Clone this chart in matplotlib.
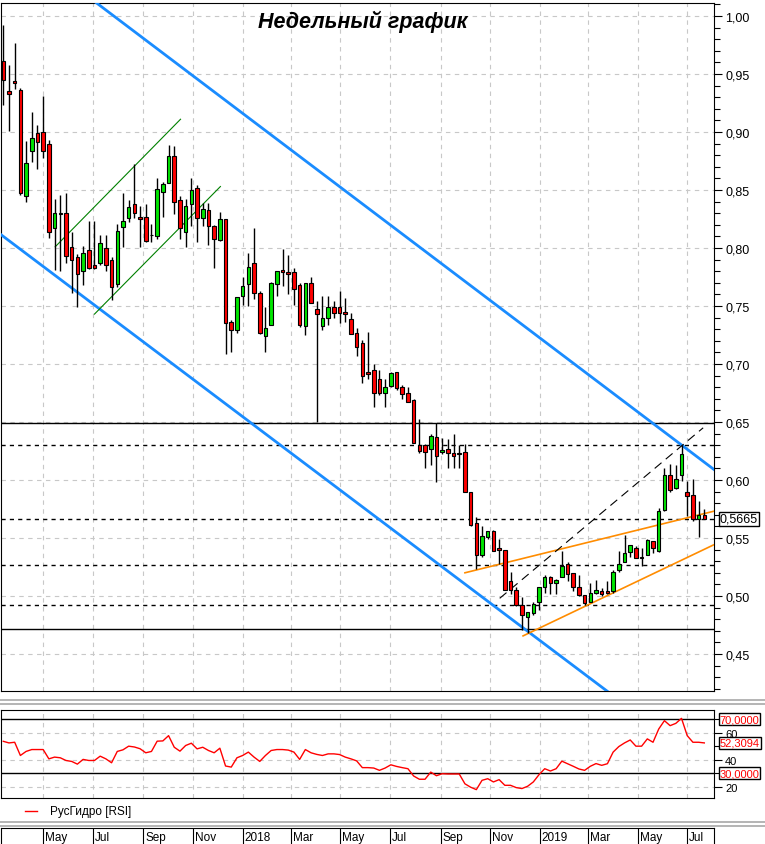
import matplotlib.pyplot as plt
import matplotlib.transforms as mtransforms
from matplotlib.lines import Line2D
from matplotlib.ticker import MultipleLocator, FuncFormatter
import numpy as np
import pandas as pd

plt.rcParams['font.family'] = ['Liberation Sans', 'DejaVu Sans']

# weekly candles, first week starts 2017-03-13
start = pd.Timestamp('2017-03-13')

opens = [0.961, 0.935, 0.944, 0.936, 0.845, 0.884, 0.899, 0.900, 0.890, 0.817,
         0.830, 0.830, 0.801, 0.792, 0.780, 0.798, 0.785, 0.787, 0.800, 0.790,
         0.769, 0.818, 0.826, 0.838, 0.827, 0.827, 0.811, 0.810, 0.848, 0.856,
         0.879, 0.841, 0.814, 0.838, 0.852, 0.826, 0.833, 0.819, 0.807, 0.825,
         0.736, 0.729, 0.759, 0.769, 0.787, 0.761, 0.724, 0.734, 0.769, 0.781,
         0.779, 0.779, 0.768, 0.733, 0.770, 0.747, 0.733, 0.740, 0.749, 0.749,
         0.745, 0.739, 0.727, 0.718, 0.693, 0.695, 0.687, 0.675, 0.681, 0.693,
         0.680, 0.675, 0.669, 0.630, 0.630, 0.627, 0.637, 0.624, 0.627, 0.623,
         0.623, 0.624, 0.590, 0.563, 0.535, 0.551, 0.556, 0.541, 0.540, 0.513,
         0.505, 0.492, 0.482, 0.485, 0.495, 0.508, 0.516, 0.511, 0.516, 0.528,
         0.520, 0.508, 0.501, 0.495, 0.503, 0.504, 0.504, 0.504, 0.522, 0.529,
         0.538, 0.541, 0.534, 0.535, 0.547, 0.539, 0.574, 0.604, 0.593, 0.604,
         0.590, 0.587, 0.566, 0.570]
highs = [0.992, 0.958, 0.977, 0.938, 0.892, 0.917, 0.906, 0.931, 0.893, 0.842,
         0.846, 0.847, 0.814, 0.795, 0.802, 0.823, 0.823, 0.811, 0.811, 0.792,
         0.821, 0.847, 0.841, 0.872, 0.836, 0.838, 0.821, 0.860, 0.857, 0.889,
         0.888, 0.845, 0.842, 0.860, 0.854, 0.839, 0.839, 0.820, 0.831, 0.825,
         0.738, 0.758, 0.775, 0.796, 0.817, 0.763, 0.749, 0.771, 0.780, 0.799,
         0.794, 0.783, 0.770, 0.770, 0.775, 0.754, 0.759, 0.759, 0.754, 0.763,
         0.757, 0.744, 0.731, 0.721, 0.728, 0.700, 0.695, 0.687, 0.693, 0.693,
         0.682, 0.680, 0.670, 0.653, 0.631, 0.640, 0.649, 0.636, 0.635, 0.640,
         0.630, 0.631, 0.590, 0.568, 0.560, 0.556, 0.557, 0.549, 0.540, 0.521,
         0.508, 0.499, 0.486, 0.495, 0.508, 0.518, 0.517, 0.515, 0.539, 0.529,
         0.520, 0.518, 0.501, 0.511, 0.514, 0.507, 0.513, 0.522, 0.539, 0.553,
         0.544, 0.543, 0.541, 0.549, 0.547, 0.576, 0.610, 0.614, 0.613, 0.630,
         0.599, 0.601, 0.582, 0.575]
lows = [0.923, 0.901, 0.937, 0.846, 0.840, 0.874, 0.868, 0.878, 0.809, 0.781,
        0.780, 0.787, 0.761, 0.749, 0.768, 0.782, 0.782, 0.785, 0.780, 0.755,
        0.766, 0.801, 0.822, 0.826, 0.801, 0.805, 0.805, 0.808, 0.827, 0.856,
        0.829, 0.808, 0.801, 0.819, 0.805, 0.819, 0.803, 0.783, 0.806, 0.709,
        0.710, 0.727, 0.751, 0.750, 0.756, 0.726, 0.710, 0.734, 0.759, 0.767,
        0.760, 0.751, 0.732, 0.725, 0.753, 0.650, 0.729, 0.734, 0.740, 0.735,
        0.736, 0.726, 0.707, 0.684, 0.687, 0.663, 0.673, 0.663, 0.680, 0.678,
        0.670, 0.667, 0.632, 0.623, 0.610, 0.613, 0.598, 0.622, 0.610, 0.610,
        0.610, 0.590, 0.560, 0.523, 0.534, 0.549, 0.539, 0.528, 0.505, 0.502,
        0.491, 0.471, 0.468, 0.484, 0.488, 0.503, 0.502, 0.502, 0.516, 0.513,
        0.504, 0.500, 0.492, 0.495, 0.502, 0.500, 0.502, 0.503, 0.521, 0.529,
        0.534, 0.533, 0.526, 0.535, 0.537, 0.538, 0.573, 0.590, 0.592, 0.599,
        0.569, 0.565, 0.551, 0.566]
closes = [0.945, 0.933, 0.942, 0.847, 0.873, 0.895, 0.891, 0.884, 0.814, 0.830,
          0.829, 0.793, 0.790, 0.778, 0.796, 0.783, 0.783, 0.804, 0.785, 0.766,
          0.815, 0.823, 0.835, 0.830, 0.825, 0.806, 0.811, 0.851, 0.855, 0.879,
          0.840, 0.817, 0.836, 0.850, 0.826, 0.834, 0.819, 0.808, 0.825, 0.735,
          0.729, 0.758, 0.767, 0.784, 0.761, 0.727, 0.731, 0.770, 0.780, 0.779,
          0.778, 0.765, 0.734, 0.770, 0.753, 0.743, 0.740, 0.749, 0.744, 0.744,
          0.743, 0.726, 0.715, 0.690, 0.691, 0.675, 0.675, 0.680, 0.692, 0.679,
          0.674, 0.667, 0.632, 0.625, 0.624, 0.638, 0.621, 0.626, 0.623, 0.621,
          0.622, 0.590, 0.561, 0.535, 0.552, 0.556, 0.539, 0.540, 0.505, 0.505,
          0.492, 0.484, 0.486, 0.493, 0.508, 0.516, 0.511, 0.514, 0.526, 0.519,
          0.508, 0.501, 0.494, 0.503, 0.505, 0.502, 0.503, 0.521, 0.528, 0.537,
          0.544, 0.533, 0.533, 0.548, 0.541, 0.573, 0.604, 0.591, 0.601, 0.622,
          0.586, 0.566, 0.570, 0.5665]

rsi = [53.5, 52.3, 52.8, 43.0, 46.0, 47.4, 47.4, 47.4, 40.5, 41.8,
       41.3, 39.3, 38.6, 36.6, 40.1, 39.3, 39.3, 42.5, 40.5, 37.6,
       46.0, 47.2, 49.9, 49.3, 48.0, 45.0, 46.0, 53.6, 53.8, 57.7,
       49.1, 46.2, 50.4, 52.1, 47.9, 49.1, 46.7, 45.0, 48.4, 35.2,
       34.4, 41.3, 43.0, 45.5, 41.8, 38.6, 43.0, 46.7, 47.4, 47.4,
       47.0, 45.5, 40.1, 47.4, 45.0, 43.8, 43.0, 44.2, 44.2, 43.7,
       41.8, 40.5, 39.0, 34.0, 34.0, 33.7, 32.0, 33.7, 36.1, 34.9,
       34.0, 33.2, 27.8, 25.4, 25.4, 30.7, 28.0, 29.5, 29.3, 29.3,
       29.3, 22.0, 19.5, 17.7, 24.6, 25.8, 23.4, 25.1, 20.9, 20.9,
       19.2, 18.5, 20.2, 23.4, 28.8, 33.2, 31.5, 33.2, 38.8, 36.9,
       35.0, 33.0, 32.0, 35.0, 37.0, 35.7, 36.9, 45.5, 49.6, 52.3,
       54.5, 49.9, 49.9, 55.3, 52.8, 62.6, 68.8, 65.1, 66.8, 70.5,
       57.7, 52.8, 52.8, 52.3094]

month_dates = ['2017-05-01', '2017-07-01', '2017-09-01', '2017-11-01', '2018-01-01',
               '2018-03-01', '2018-05-01', '2018-07-01', '2018-09-01', '2018-11-01',
               '2019-01-01', '2019-03-01', '2019-05-01', '2019-07-01']
month_labels = ['May', 'Jul', 'Sep', 'Nov', '2018', 'Mar', 'May', 'Jul', 'Sep', 'Nov',
                '2019', 'Mar', 'May', 'Jul']

# horizontal levels
levels_solid = [0.649, 0.4715]
levels_dashed = [0.630, 0.5665, 0.5265, 0.4925]
last_price = 0.5665
rsi_levels = [70.0, 30.0]

# trend lines as (week index, price) pairs
blue_upper = ([15.0, 126.0], [1.0163, 0.6042])
blue_lower = ([-1.0, 108.0], [0.8137, 0.4104])
green_upper = ([9.1, 31.1], [0.801, 0.911])
green_lower = ([16.0, 38.1], [0.743, 0.853])
orange_upper = ([81.0, 124.6], [0.520, 0.573])
orange_lower = ([91.2, 124.6], [0.4656, 0.544])
black_diag = ([87.1, 122.8], [0.498, 0.645])

W, H = 765, 845
def box(x0, y0, x1, y1):
    return [x0 / W, 1 - y1 / H, (x1 - x0) / W, (y1 - y0) / H]

x = np.arange(len(opens))
month_pos = (pd.to_datetime(month_dates) - start).days / 7.0
xlim = (-0.4, 124.7)
grid_col = '#c8c8c8'
grid_ls = (0, (4, 4))
label_box = dict(boxstyle='square,pad=0.08', fc='white', ec='black', lw=1)

fig = plt.figure(figsize=(W / 100, H / 100), dpi=100)

# ---- price panel
ax = fig.add_axes(box(1, 4, 714, 692))
ax.set_xlim(*xlim)
ax.set_ylim(0.4181, 1.0112)
ax.set_axisbelow(True)
ax.set_xticks(month_pos)
ax.tick_params(axis='x', length=0, labelbottom=False)
ax.yaxis.tick_right()
ax.set_yticks(np.arange(0.45, 1.001, 0.05))
ax.yaxis.set_minor_locator(MultipleLocator(0.01))
ax.yaxis.set_major_formatter(FuncFormatter(lambda v, p: f'{v:.2f}'.replace('.', ',')))
ax.tick_params(axis='y', which='major', length=6, width=0.8, pad=2, labelsize=9)
ax.tick_params(axis='y', which='minor', length=4, width=0.8)
ax.grid(True, color=grid_col, linestyle=grid_ls, linewidth=0.8)

for lv in levels_solid:
    ax.axhline(lv, color='black', lw=1.0, zorder=2)
for lv in levels_dashed:
    ax.axhline(lv, color='black', lw=1.0, ls=(0, (3, 3)), zorder=2)

ax.plot(*blue_upper, color='#1a8cff', lw=2.0, zorder=3)
ax.plot(*blue_lower, color='#1a8cff', lw=2.0, zorder=3)
ax.plot(*green_upper, color='#008000', lw=0.8, zorder=3)
ax.plot(*green_lower, color='#008000', lw=0.8, zorder=3)
ax.plot(*orange_upper, color='#ff8c00', lw=1.2, zorder=3)
ax.plot(*orange_lower, color='#ff8c00', lw=1.2, zorder=3)
ax.plot(*black_diag, color='black', lw=0.8, ls=(0, (8, 5)), zorder=3)

# candles
ax.vlines(x, lows, highs, color='black', lw=1.0, zorder=4)
o = np.array(opens)
c = np.array(closes)
cols = np.where(c >= o, '#00e600', '#ff0000')
ax.bar(x, np.abs(c - o), bottom=np.minimum(o, c), width=0.62, color=cols,
       edgecolor='black', linewidth=0.8, zorder=5)

ax.text(0.508, 0.974, 'Недельный график', transform=ax.transAxes, ha='center',
        va='center', fontsize=15.5, fontweight='bold', fontstyle='italic')

tr = mtransforms.blended_transform_factory(ax.transAxes, ax.transData)
ax.text(1.008, last_price, f'{last_price:.4f}'.replace('.', ','), transform=tr,
        ha='left', va='center', fontsize=9, bbox=label_box)

# ---- RSI panel
axr = fig.add_axes(box(1, 711, 714, 799))
axr.set_xlim(*xlim)
axr.set_ylim(11.5, 76.7)
axr.set_axisbelow(True)
axr.set_xticks(month_pos)
axr.tick_params(axis='x', length=0, labelbottom=False)
axr.yaxis.tick_right()
axr.set_yticks([20, 40, 60])
axr.yaxis.set_minor_locator(MultipleLocator(10))
axr.tick_params(axis='y', which='major', length=6, width=0.8, pad=2, labelsize=8)
axr.tick_params(axis='y', which='minor', length=4, width=0.8)
axr.grid(True, color=grid_col, linestyle=grid_ls, linewidth=0.8)
for lv in rsi_levels:
    axr.axhline(lv, color='black', lw=1.0)
axr.plot(x, rsi, color='red', lw=1.0)
trr = mtransforms.blended_transform_factory(axr.transAxes, axr.transData)
for val in [rsi_levels[0], rsi[-1], rsi_levels[1]]:
    axr.text(1.008, val, f'{val:.4f}'.replace('.', ','), transform=trr, ha='left',
             va='center', fontsize=8, color='red', bbox=label_box, zorder=6)

# legend
fig.add_artist(Line2D([25 / W, 37 / W], [1 - 812 / H] * 2, color='red', lw=1))
fig.text(50 / W, 1 - 812 / H, 'РусГидро [RSI]', va='center', fontsize=8.5)

# separators
for yy in [701, 705, 823, 827]:
    fig.add_artist(Line2D([0, 1], [1 - yy / H] * 2, color='#a8a8a8', lw=1.2))

# ---- date bar
axd = fig.add_axes(box(1, 829, 714, 845))
axd.set_xlim(*xlim)
axd.set_ylim(0, 1)
axd.set_xticks([])
axd.set_yticks([])
axd.spines['bottom'].set_visible(False)
for pos, lab in zip(month_pos, month_labels):
    axd.axvline(pos, color='black', lw=0.8)
    axd.text(pos + 0.35, 0.45, lab, ha='left', va='center', fontsize=8.5)

fig.savefig('out.png', dpi=100)
